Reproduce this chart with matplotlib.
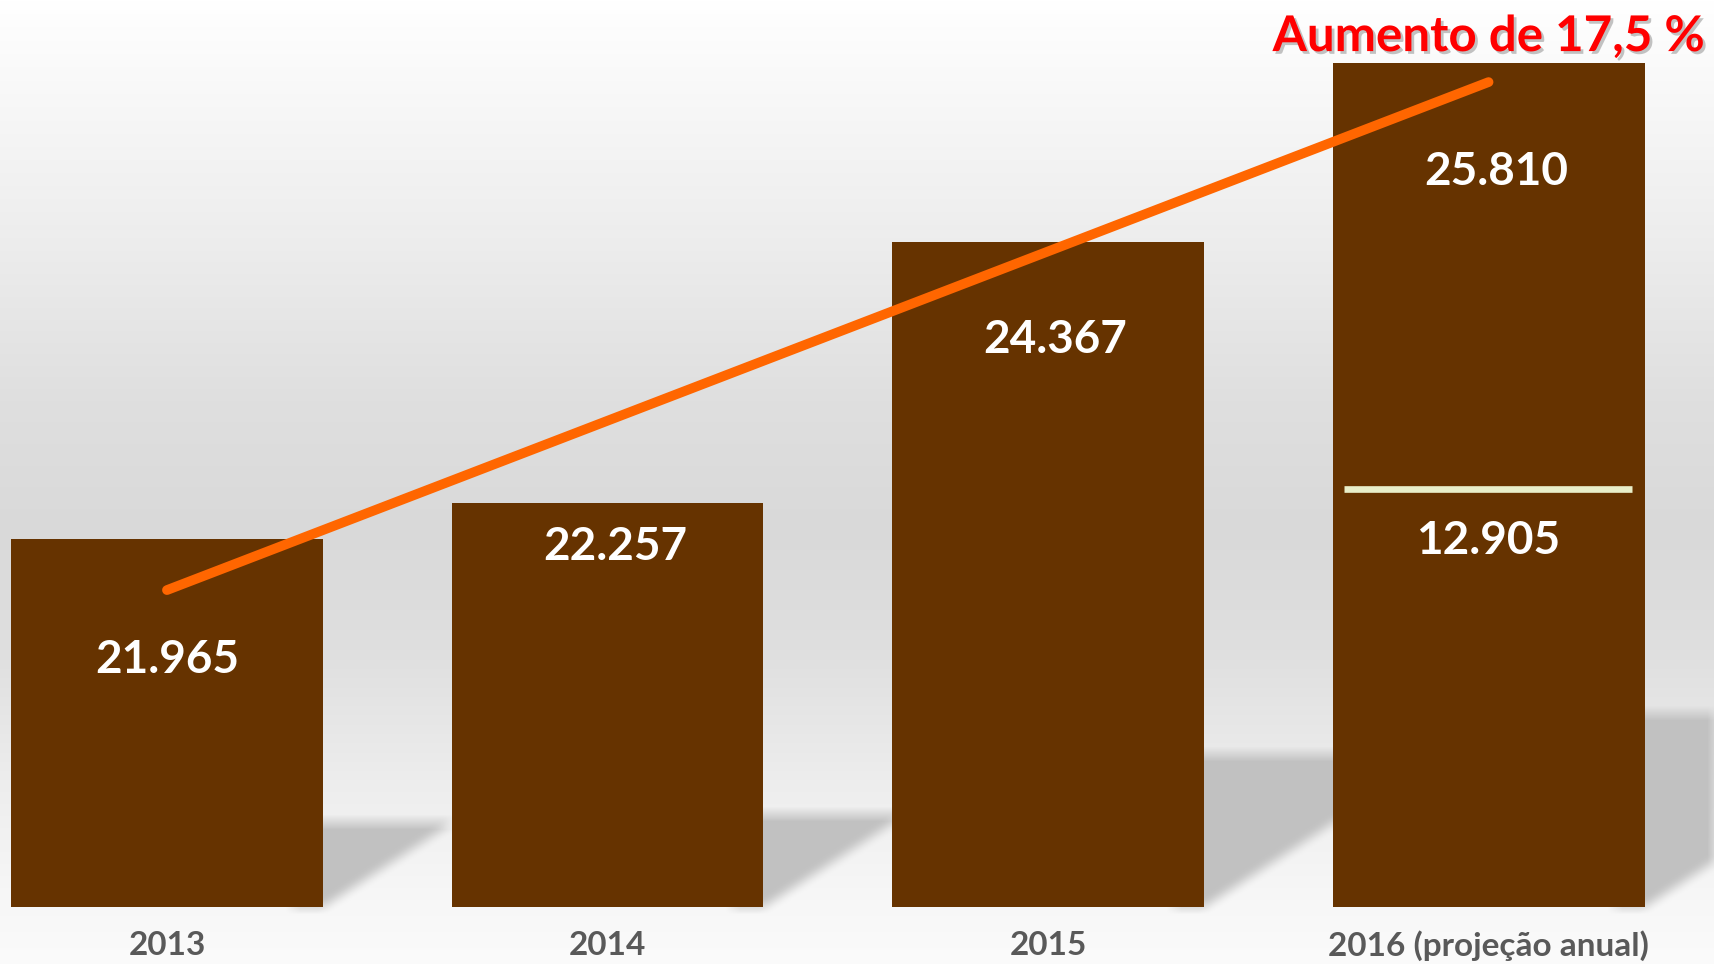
import numpy as np
import matplotlib
matplotlib.use("Agg")
import matplotlib.pyplot as plt
import matplotlib.patheffects as pe
from matplotlib.path import Path

# ---- data ----
years = ["2013", "2014", "2015", "2016 (projeção anual)"]
values = [21965, 22257, 24367, 25810]
value_labels = ["21.965", "22.257", "24.367", "25.810"]
label_y = [20995, 21900, 23570, 24925]      # where each value label sits
label_dx = [0.0, 0.017, 0.017, 0.017]
half_label = "12.905"
half_label_y = 21950
half_level = 22370                          # half-year mark inside the 2016 bar
trend_y = [21556, 25653]                    # orange line, 2013 -> 2016
title = "Aumento de 17,5 %"

BROWN = "#663300"; ORANGE = "#FF6600"; RED = "#FF0000"; TXT = "#595959"; MARK = "#E9EFC9"
W, H, DPI = 1715, 964, 100
Y0, Y1 = 19000, 26315
BAR_W = 0.708

plt.rcParams["font.family"] = ["Lato", "DejaVu Sans"]

fig = plt.figure(figsize=(W / DPI, H / DPI), dpi=DPI)
bg = fig.add_axes([0, 0, 1, 1]); bg.set_axis_off()
ax = fig.add_axes([0, 57 / H, 1, 907 / H])
ax.set_xlim(-0.379, 3.514); ax.set_ylim(Y0, Y1)
ax.patch.set_alpha(0)
for s in ax.spines.values():
    s.set_visible(False)
ax.set_yticks([])

# ---- background: vertical grey gradient + soft floor shadows ----
rows = np.arange(H)
stops_y = [0, 120, 250, 400, 530, 650, 780, 900, 964]
stops_g = [255, 246, 236, 223, 217, 223, 237, 247, 251]
img = np.repeat((np.interp(rows, stops_y, stops_g) / 255)[:, None], W, axis=1)

yy, xx = np.mgrid[0:H, 0:W]
pts = np.column_stack([xx.ravel() + 0.5, H - yy.ravel() - 0.5])
shade = np.zeros(H * W)
for i, v in enumerate(values):
    xr = i + BAR_W / 2
    top = Y0 + 0.23 * (v - Y0)
    (px_r, py_b), (_, py_t) = ax.transData.transform([(xr, Y0), (xr, top)])
    reach = (py_t - py_b) / 0.65
    poly = [(px_r - 30, py_b), (px_r - 30, py_t), (px_r + reach, py_t), (px_r, py_b)]
    shade = np.maximum(shade, Path(poly).contains_points(pts))
shade = shade.reshape(H, W).astype(float)
k = np.ones(15) / 15
shade = np.apply_along_axis(lambda r: np.convolve(r, k, mode="same"), 1, shade)
shade = np.apply_along_axis(lambda c: np.convolve(c, k, mode="same"), 0, shade)
img = img + (0.76 - img) * shade
bg.imshow(np.dstack([img] * 3), extent=[0, 1, 0, 1], aspect="auto", interpolation="bilinear")
bg.set_xlim(0, 1); bg.set_ylim(0, 1)

# ---- bars, marks, labels ----
x = np.arange(len(years))
ax.bar(x, values, width=BAR_W, color=BROWN, zorder=2)
ax.plot([3 - 0.328, 3 + 0.326], [half_level] * 2, color=MARK, lw=4.8,
        solid_capstyle="butt", zorder=3)
ax.plot([0, 3], trend_y, color=ORANGE, lw=7, solid_capstyle="round", zorder=4)

for i, lbl in enumerate(value_labels):
    ax.text(i + label_dx[i], label_y[i], lbl, ha="center", va="center", color="white",
            fontsize=33, fontweight="bold", zorder=5)
ax.text(3, half_label_y, half_label, ha="center", va="center", color="white",
        fontsize=33, fontweight="bold", zorder=5)

ax.set_xticks(x)
ax.set_xticklabels(years, fontsize=24, fontweight="bold", color=TXT)
ax.tick_params(axis="x", length=0, pad=17)

ax.text(3.0, 26020, title, ha="center", va="center", color=RED, fontsize=35.5,
        fontweight="bold", zorder=6,
        path_effects=[pe.withSimplePatchShadow(offset=(2, -2), shadow_rgbFace="#888888", alpha=0.5)])

fig.savefig("out.png", dpi=DPI)
